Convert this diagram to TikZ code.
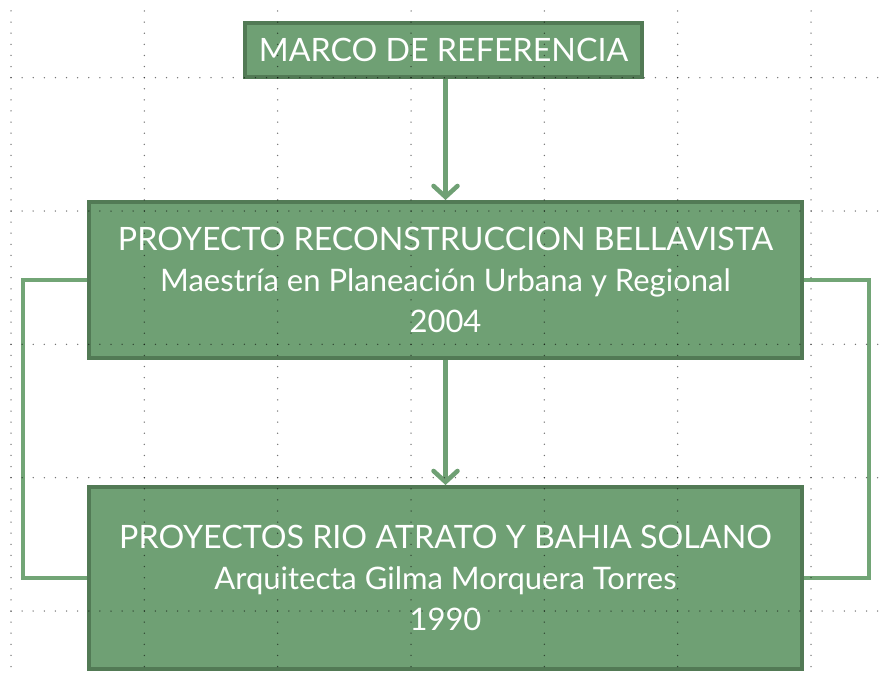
\documentclass[tikz,border=0pt]{standalone}
\usepackage{fontspec}
\setmainfont{Lato}
\usetikzlibrary{arrows.meta,calc}
\definecolor{boxfill}{HTML}{6FA074}
\definecolor{boxline}{HTML}{527A55}
\definecolor{linkcol}{HTML}{72A576}
\newcommand{\capsz}{\fontsize{32.2}{41}\selectfont}
\newcommand{\lowsz}{\fontsize{31}{41}\selectfont}
\tikzset{
  box/.style={draw=boxline, line width=4pt, fill=boxfill, text=white, align=center,
    inner sep=0pt, font=\fontsize{32.2}{41}\selectfont},
  link/.style={draw=linkcol, line width=4.5pt},
  arrowlink/.style={draw=boxfill, line width=4.5pt,
    -{Straight Barb[length=11pt,width=24pt,line cap=round]}},
  griddot/.style={fill=black, fill opacity=0.55}
}
\begin{document}
\begin{tikzpicture}[x=1pt,y=-1pt]
\useasboundingbox (0,0) rectangle (880,677);
\fill[white] (0,0) rectangle (880,677);
\node[box, minimum width=397pt, minimum height=54pt] (b1) at (443.5,50) {MARCO DE REFERENCIA};
\node[box, minimum width=713pt, minimum height=156pt] (b2) at (445.5,280)
  {\capsz PROYECTO RECONSTRUCCION BELLAVISTA\\\lowsz Maestría en Planeación Urbana y Regional\\\lowsz 2004};
\node[box, minimum width=713pt, minimum height=182pt] (b3) at (445.5,578)
  {\capsz PROYECTOS RIO ATRATO Y BAHIA SOLANO\\\lowsz Arquitecta Gilma Morquera Torres\\\lowsz 1990};
\draw[arrowlink] (b1.south -| b2.north) -- (b2.north);
\draw[arrowlink] (b2.south) -- (b3.north);
\draw[link] (b2.west) -- ++(-64,0) |- (b3.west);
\draw[link] (b2.east) -- ++(65,0) |- (b3.east);
% dotted grid
\foreach \gx in {11,144.33,277.67,411,544.33,677.67,811}{
  \foreach \k in {0,...,59}{
    \fill[griddot] (\gx,{11+11.111*\k}) circle (0.75pt);
  }
}
\foreach \gy in {77.67,211,344.33,477.67,611}{
  \foreach \k in {0,...,78}{
    \fill[griddot] ({11+11.111*\k},\gy) circle (0.75pt);
  }
}
\end{tikzpicture}
\end{document}
